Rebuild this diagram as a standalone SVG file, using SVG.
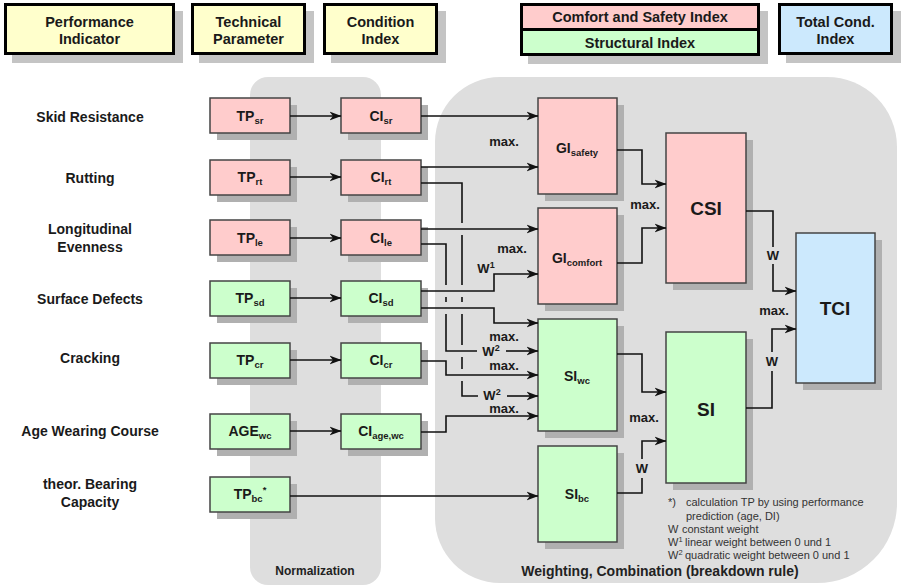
<svg xmlns="http://www.w3.org/2000/svg" width="901" height="587" viewBox="0 0 901 587">
<defs>
<marker id="ah" viewBox="0 0 12 10" refX="11.5" refY="5" markerWidth="12" markerHeight="10" markerUnits="userSpaceOnUse" orient="auto">
<path d="M0,0.5 L12,5 L0,9.5 L3.5,5 z" fill="#111"/>
</marker>
<style>
text{font-family:"Liberation Sans",Arial,sans-serif;fill:#1a1a1a;}
.hd{font-size:14.5px;font-weight:bold;text-anchor:middle;}
.lb{font-size:14px;font-weight:bold;text-anchor:middle;}
.nt{font-size:14px;font-weight:bold;text-anchor:middle;}
.big{font-size:19px;font-weight:bold;text-anchor:middle;}
.sub{font-size:9.5px;}
.ml{font-size:13px;font-weight:bold;text-anchor:middle;}
.fn{font-size:11px;fill:#333;}
.pl{font-size:12px;font-weight:bold;text-anchor:middle;fill:#222;}
.hbox{stroke:#000;stroke-width:3;}
.hsh{fill:#c4c4c4;}
.sh{fill:#b0b0b0;}
.nb{stroke:#444;stroke-width:1.5;}
.pink{fill:#ffcccc;}
.green{fill:#ccffcc;}
.blue{fill:#cce9fd;}
.yel{fill:#ffffcc;}
.cn{fill:none;stroke:#111;stroke-width:1.6;}
.panel{fill:#dedede;}
</style>
</defs>
<rect width="901" height="587" fill="#fff"/>

<!-- panels -->
<g id="panel-normalization">
<rect class="panel" x="250" y="77" width="131" height="508" rx="18"/>
<text class="pl" x="315" y="575">Normalization</text>
</g>
<g id="panel-weighting">
<path class="panel" d="M500,77 H827 A70,70 0 0 1 897,147 V503 A80,80 0 0 1 817,583 H500 A65,65 0 0 1 435,518 V142 A65,65 0 0 1 500,77 Z"/>
<text class="pl" x="660" y="576" style="font-size:14px">Weighting, Combination (breakdown rule)</text>
</g>

<!-- headers -->
<g id="hdr-performance">
<rect class="hsh" x="12" y="11" width="171" height="52"/>
<rect class="hbox yel" x="5.5" y="4.5" width="168" height="49"/>
<text class="hd" x="89.5" y="27">Performance</text>
<text class="hd" x="89.5" y="44">Indicator</text>
</g>
<g id="hdr-technical">
<rect class="hsh" x="199" y="11" width="115" height="52"/>
<rect class="hbox yel" x="192.5" y="4.5" width="112" height="49"/>
<text class="hd" x="248.5" y="27">Technical</text>
<text class="hd" x="248.5" y="44">Parameter</text>
</g>
<g id="hdr-condition">
<rect class="hsh" x="331" y="11" width="115" height="52"/>
<rect class="hbox yel" x="324.5" y="4.5" width="112" height="49"/>
<text class="hd" x="380.5" y="27">Condition</text>
<text class="hd" x="380.5" y="44">Index</text>
</g>
<g id="hdr-csi-si">
<rect class="hsh" x="528" y="11" width="240" height="53"/>
<rect class="hbox pink" x="521.5" y="4.5" width="237" height="25"/>
<rect class="hbox green" x="521.5" y="29.5" width="237" height="25"/>
<text class="hd" x="640" y="22">Comfort and Safety Index</text>
<text class="hd" x="640" y="48">Structural Index</text>
</g>
<g id="hdr-total">
<rect class="hsh" x="786" y="11" width="115" height="52"/>
<rect class="hbox blue" x="779.5" y="4.5" width="112" height="49"/>
<text class="hd" x="835.5" y="27">Total Cond.</text>
<text class="hd" x="835.5" y="44">Index</text>
</g>

<!-- left labels -->
<g id="labels-indicators">
<text class="lb" x="90" y="122">Skid Resistance</text>
<text class="lb" x="90" y="183">Rutting</text>
<text class="lb" x="90" y="234">Longitudinal</text>
<text class="lb" x="90" y="252">Evenness</text>
<text class="lb" x="90" y="304">Surface Defects</text>
<text class="lb" x="90" y="363">Cracking</text>
<text class="lb" x="90" y="436">Age Wearing Course</text>
<text class="lb" x="90" y="489">theor. Bearing</text>
<text class="lb" x="90" y="507">Capacity</text>
</g>

<!-- technical parameter nodes -->
<g id="tp-sr"><rect class="sh" x="217" y="105" width="80" height="35"/><rect class="nb pink" x="210" y="98" width="80" height="35"/><text class="nt" x="250" y="121">TP<tspan class="sub" dy="3">sr</tspan></text></g>
<g id="tp-rt"><rect class="sh" x="217" y="167" width="80" height="35"/><rect class="nb pink" x="210" y="160" width="80" height="35"/><text class="nt" x="250" y="182">TP<tspan class="sub" dy="3">rt</tspan></text></g>
<g id="tp-le"><rect class="sh" x="217" y="227" width="80" height="35"/><rect class="nb pink" x="210" y="220" width="80" height="35"/><text class="nt" x="250" y="243">TP<tspan class="sub" dy="3">le</tspan></text></g>
<g id="tp-sd"><rect class="sh" x="217" y="288" width="80" height="35"/><rect class="nb green" x="210" y="281" width="80" height="35"/><text class="nt" x="250" y="303">TP<tspan class="sub" dy="3">sd</tspan></text></g>
<g id="tp-cr"><rect class="sh" x="217" y="350" width="80" height="35"/><rect class="nb green" x="210" y="343" width="80" height="35"/><text class="nt" x="250" y="365">TP<tspan class="sub" dy="3">cr</tspan></text></g>
<g id="age-wc"><rect class="sh" x="217" y="421" width="80" height="35"/><rect class="nb green" x="210" y="414" width="80" height="35"/><text class="nt" x="250" y="436">AGE<tspan class="sub" dy="3">wc</tspan></text></g>
<g id="tp-bc"><rect class="sh" x="217" y="484" width="80" height="35"/><rect class="nb green" x="210" y="477" width="80" height="35"/><text class="nt" x="250" y="499">TP<tspan class="sub" dy="3">bc</tspan><tspan class="sub" font-size="8" dy="-9">*</tspan></text></g>

<!-- condition index nodes -->
<g id="ci-sr"><rect class="sh" x="348" y="105" width="80" height="35"/><rect class="nb pink" x="341" y="98" width="80" height="35"/><text class="nt" x="381" y="121">CI<tspan class="sub" dy="3">sr</tspan></text></g>
<g id="ci-rt"><rect class="sh" x="348" y="167" width="80" height="35"/><rect class="nb pink" x="341" y="160" width="80" height="35"/><text class="nt" x="381" y="182">CI<tspan class="sub" dy="3">rt</tspan></text></g>
<g id="ci-le"><rect class="sh" x="348" y="227" width="80" height="35"/><rect class="nb pink" x="341" y="220" width="80" height="35"/><text class="nt" x="381" y="243">CI<tspan class="sub" dy="3">le</tspan></text></g>
<g id="ci-sd"><rect class="sh" x="348" y="288" width="80" height="35"/><rect class="nb green" x="341" y="281" width="80" height="35"/><text class="nt" x="381" y="303">CI<tspan class="sub" dy="3">sd</tspan></text></g>
<g id="ci-cr"><rect class="sh" x="348" y="350" width="80" height="35"/><rect class="nb green" x="341" y="343" width="80" height="35"/><text class="nt" x="381" y="365">CI<tspan class="sub" dy="3">cr</tspan></text></g>
<g id="ci-age-wc"><rect class="sh" x="348" y="421" width="80" height="35"/><rect class="nb green" x="341" y="414" width="80" height="35"/><text class="nt" x="381" y="436">CI<tspan class="sub" dy="3">age,wc</tspan></text></g>

<!-- group indices -->
<g id="gi-safety"><rect class="sh" x="545" y="105" width="79" height="96"/><rect class="nb pink" x="538" y="98" width="79" height="96"/><text class="nt" x="577" y="153">GI<tspan class="sub" dy="3">safety</tspan></text></g>
<g id="gi-comfort"><rect class="sh" x="545" y="215" width="79" height="96"/><rect class="nb pink" x="538" y="208" width="79" height="96"/><text class="nt" x="577" y="263">GI<tspan class="sub" dy="3">comfort</tspan></text></g>
<g id="si-wc"><rect class="sh" x="545" y="326" width="79" height="112"/><rect class="nb green" x="538" y="319" width="79" height="112"/><text class="nt" x="577" y="381">SI<tspan class="sub" dy="3">wc</tspan></text></g>
<g id="si-bc"><rect class="sh" x="545" y="453" width="79" height="96"/><rect class="nb green" x="538" y="446" width="79" height="96"/><text class="nt" x="577" y="499">SI<tspan class="sub" dy="3">bc</tspan></text></g>

<g id="csi"><rect class="sh" x="673" y="140" width="80" height="150"/><rect class="nb pink" x="666" y="133" width="80" height="150"/><text class="big" x="706" y="215">CSI</text></g>
<g id="si"><rect class="sh" x="673" y="339" width="80" height="151"/><rect class="nb green" x="666" y="332" width="80" height="151"/><text class="big" x="706" y="416">SI</text></g>
<g id="tci"><rect class="sh" x="803" y="240" width="79" height="150"/><rect class="nb blue" x="796" y="233" width="79" height="150"/><text class="big" x="835" y="315">TCI</text></g>

<!-- connectors -->
<g id="connectors">
<path class="cn" d="M290,116 H341" marker-end="url(#ah)"/>
<path class="cn" d="M290,177 H341" marker-end="url(#ah)"/>
<path class="cn" d="M290,238 H341" marker-end="url(#ah)"/>
<path class="cn" d="M290,298 H341" marker-end="url(#ah)"/>
<path class="cn" d="M290,360 H341" marker-end="url(#ah)"/>
<path class="cn" d="M290,431 H341" marker-end="url(#ah)"/>
<path class="cn" d="M290,496 H538" marker-end="url(#ah)"/>

<path class="cn" d="M421,116 H538" marker-end="url(#ah)"/>
<path class="cn" d="M421,167 H538" marker-end="url(#ah)"/>
<path class="cn" d="M421,183 H462 V223 M462,235 V285 M462,297 V302 M462,314 V345 M462,357 V369 M462,381 V396 H478"/>
<path class="cn" d="M507,396 H538" marker-end="url(#ah)"/>
<path class="cn" d="M421,229 H538" marker-end="url(#ah)"/>
<path class="cn" d="M421,244 H446 V285 M446,297 V302 M446,314 V351 H477"/>
<path class="cn" d="M506,351 H538" marker-end="url(#ah)"/>
<path class="cn" d="M421,291 H494 V274 H538" marker-end="url(#ah)"/>
<path class="cn" d="M421,308 H494 V323 H538" marker-end="url(#ah)"/>
<path class="cn" d="M421,361 H446 V375 H538" marker-end="url(#ah)"/>
<path class="cn" d="M421,432 H446 V416 H538" marker-end="url(#ah)"/>

<path class="cn" d="M617,150 H642 V184 H666" marker-end="url(#ah)"/>
<path class="cn" d="M617,263 H642 V228 H666" marker-end="url(#ah)"/>
<path class="cn" d="M617,354 H642 V392 H666" marker-end="url(#ah)"/>
<path class="cn" d="M617,493 H642 V478 M642,459 V441 H666" marker-end="url(#ah)"/>
<path class="cn" d="M746,211 H773 V247 M773,264 V291 H796" marker-end="url(#ah)"/>
<path class="cn" d="M746,408 H772 V371 M772,352 V329 H796" marker-end="url(#ah)"/>
</g>

<!-- connector labels -->
<g id="connector-labels">
<text class="ml" x="504" y="146">max.</text>
<text class="ml" x="512" y="253">max.</text>
<text class="ml" x="486" y="273">W<tspan font-size="9" dy="-5">1</tspan></text>
<text class="ml" x="504" y="341">max.</text>
<text class="ml" x="491" y="356">W<tspan font-size="9" dy="-5">2</tspan></text>
<text class="ml" x="504" y="370">max.</text>
<text class="ml" x="492" y="400">W<tspan font-size="9" dy="-5">2</tspan></text>
<text class="ml" x="504" y="413">max.</text>
<text class="ml" x="645" y="209">max.</text>
<text class="ml" x="644" y="422">max.</text>
<text class="ml" x="774" y="315">max.</text>
<text class="ml" x="773" y="260">W</text>
<text class="ml" x="772" y="366">W</text>
<text class="ml" x="642" y="473">W</text>
</g>

<!-- footnote -->
<g id="footnote">
<text class="fn" x="668" y="506">*)</text>
<text class="fn" x="686" y="506">calculation TP by using performance</text>
<text class="fn" x="686" y="520">prediction (age, DI)</text>
<text class="fn" x="668" y="533">W</text>
<text class="fn" x="682" y="533">constant weight</text>
<text class="fn" x="668" y="546">W<tspan font-size="7.5" dy="-4">1</tspan></text>
<text class="fn" x="685" y="546">linear weight between 0 und 1</text>
<text class="fn" x="668" y="559">W<tspan font-size="7.5" dy="-4">2</tspan></text>
<text class="fn" x="685" y="559">quadratic weight between 0 und 1</text>
</g>
</svg>
